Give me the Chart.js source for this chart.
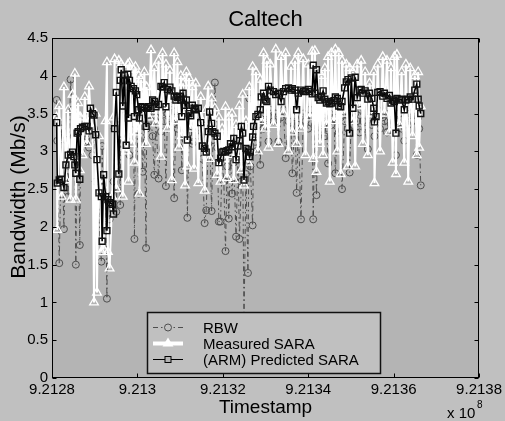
<!DOCTYPE html>
<html><head><meta charset="utf-8">
<script src="https://cdn.jsdelivr.net/npm/chart.js@4"></script>
<style>html,body{margin:0;padding:0;background:#c0c0c0;overflow:hidden;}</style>
</head><body>
<canvas id="c" width="505" height="421"></canvas>
<script>
const chartTitle = 'Caltech';
const xAxisTitle = 'Timestamp';
const yAxisTitle = 'Bandwidth (Mb/s)';
const xExponent = '8';
const xTickValues = [921280000, 921300000, 921320000, 921340000, 921360000, 921380000];
const xTickLabels = ['9.2128', '9.213', '9.2132', '9.2134', '9.2136', '9.2138'];
const yTickValues = [0, 0.5, 1, 1.5, 2, 2.5, 3, 3.5, 4, 4.5];
const yTickLabels = ['0', '0.5', '1', '1.5', '2', '2.5', '3', '3.5', '4', '4.5'];
const seriesNames = ['RBW', 'Measured SARA', '(ARM) Predicted SARA'];

const timestamps = [
921281093,921281233,921281698,921282256,921282791,921283256,921283791,921284349,921284814,921285116,
921285349,921285581,921285884,921286116,921286512,921286674,921287140,921287674,921288209,921288674,
921289000,921289465,921289837,921290233,921290535,921291000,921291558,921291744,921292093,921292558,
921292860,921293093,921293488,921294116,921294419,921294651,921295047,921295651,921295977,921296209,
921296581,921296977,921297372,921297744,921297907,921298140,921298535,921299070,921299302,921299535,
921299837,921300302,921300465,921300861,921301233,921301628,921302023,921302163,921302628,921303186,
921303558,921303954,921304349,921304954,921305512,921305884,921306279,921306674,921307047,921307605,
921308070,921308605,921309000,921309372,921309767,921310163,921310395,921310698,921311163,921311465,
921311698,921312093,921312488,921312860,921313256,921313651,921314256,921314814,921315186,921315744,
921316116,921316581,921316907,921317372,921317674,921318140,921318674,921319070,921319465,921319837,
921320233,921320628,921321000,921321395,921321791,921322163,921322558,921323093,921323558,921323884,
921324349,921324651,921324953,921325419,921325884,921326209,921326442,921326977,921327209,921327744,
921328209,921328767,921329000,921329535,921329930,921330302,921330698,921331093,921331860,921332395,
921333023,921333651,921334186,921334721,921335349,921335977,921336279,921336907,921337279,921337674,
921338302,921338837,921339372,921340000,921340395,921340930,921341163,921341558,921341930,921342326,
921342721,921343093,921343488,921343884,921344256,921344651,921345047,921345419,921346047,921346349,
921346814,921347140,921347605,921347907,921348535,921348907,921349302,921349698,921350070,921350465,
921351000,921351465,921352023,921352395,921352791,921353326,921353954,921354349,921354884,921355349,
921355512,921355884,921356279,921356814,921357442,921357837,921358442,921359000,921359372,921359767,
921360163,921360535,921360767,921361326,921361860,921362488,921362860,921363419,921363884,921364419,
921364953,921365419,921365744,921365977,921366349];

const rbw = [
3.68,3.14,1.52,3.30,1.97,3.15,2.40,3.95,3.55,3.20,
2.90,1.50,3.10,3.40,1.76,3.00,3.30,3.15,3.45,3.05,
3.50,2.95,3.30,2.60,2.20,2.10,1.54,3.07,2.00,2.41,
1.05,2.41,2.10,2.30,2.60,3.30,2.20,3.75,2.29,3.55,
3.10,3.85,3.60,3.20,3.50,2.95,3.40,3.60,1.84,3.35,
3.50,2.44,3.40,3.55,2.73,3.45,1.72,3.30,3.50,3.40,
3.20,2.69,3.45,2.64,3.26,3.55,3.40,2.54,3.50,3.35,
3.60,2.38,3.45,3.30,3.55,3.40,2.75,3.50,3.30,3.45,
2.12,3.25,3.40,3.10,3.13,3.40,3.30,3.20,2.90,2.05,
2.22,3.10,3.30,2.21,3.15,3.91,3.05,2.07,2.07,2.90,
2.60,1.68,2.80,2.11,2.95,2.44,2.85,1.87,2.90,1.84,
2.60,2.95,0.70,2.70,1.39,3.70,2.80,2.02,3.20,3.00,
3.35,2.82,3.40,3.30,3.50,3.35,3.13,3.55,3.40,3.50,
3.13,3.45,3.55,2.91,3.40,3.30,2.71,3.45,2.45,3.35,
2.10,3.50,3.40,3.30,3.55,3.45,2.10,3.35,2.42,3.40,
3.55,3.30,3.45,3.20,3.40,2.84,3.50,3.35,3.45,2.71,
3.40,3.25,3.45,2.50,3.40,3.55,3.30,2.72,3.45,3.35,
3.50,3.40,3.25,3.55,3.40,3.30,3.03,3.45,3.35,3.50,
3.20,3.40,3.55,3.30,3.45,3.40,3.25,3.50,3.35,3.45,
3.30,2.95,3.40,3.50,3.30,3.14,3.45,3.35,3.50,3.40,
3.55,2.95,3.45,3.30,2.55];

const sara = [
3.45,1.96,3.60,2.40,3.85,2.62,3.55,2.36,3.75,2.90,
4.03,2.36,3.50,3.64,2.75,3.45,2.95,3.72,3.10,3.86,
3.55,3.30,1.00,3.50,1.13,3.20,1.67,2.55,1.70,3.40,
4.18,1.67,1.45,2.40,3.45,4.22,2.50,4.20,3.20,4.15,
2.40,3.90,3.00,4.15,2.60,4.17,3.10,4.08,2.85,4.12,
3.25,4.00,2.44,3.95,3.40,4.05,3.10,3.85,3.45,4.34,
3.50,4.10,3.37,4.20,2.93,4.30,3.60,4.15,3.30,4.07,
2.62,4.30,3.40,4.18,3.05,4.00,3.20,3.90,2.55,4.05,
2.80,3.97,3.30,3.85,2.77,3.90,2.58,3.72,3.40,2.48,
3.55,3.86,2.90,3.70,3.30,3.57,2.69,3.45,2.60,3.30,
2.90,3.59,2.65,3.45,2.95,3.50,2.62,3.35,2.90,3.60,
2.75,3.75,2.55,3.40,2.85,3.85,3.00,4.12,3.20,4.05,
3.00,3.95,3.40,4.30,3.30,4.20,3.05,4.15,3.35,4.35,
3.10,4.25,3.50,4.30,3.00,4.12,3.25,4.20,3.10,4.30,
3.30,4.22,2.95,4.15,3.45,4.32,2.90,4.33,2.73,4.05,
3.10,4.00,2.95,4.10,3.35,4.25,2.60,4.30,3.40,4.35,
3.00,4.30,2.70,4.20,3.50,4.15,2.80,4.10,3.40,4.05,
2.80,4.15,3.60,4.20,3.10,4.05,2.95,3.90,3.50,4.05,
2.58,3.40,4.15,3.00,4.25,3.50,4.20,3.25,4.10,2.85,
4.25,2.70,4.28,3.35,4.05,2.85,4.15,2.60,4.10,3.20,
4.00,2.95,4.05,3.05,3.60];

const arm = [
3.38,2.58,2.62,2.63,2.52,2.82,2.95,2.96,2.99,2.93,
2.82,2.71,3.24,3.26,2.63,3.30,3.32,3.33,3.33,3.27,
3.57,3.50,3.48,3.22,2.89,2.45,2.40,1.81,2.69,2.40,
1.95,2.36,2.32,2.30,2.17,3.30,3.78,2.70,3.94,4.08,
3.60,4.01,3.08,4.02,3.44,3.94,3.86,3.83,3.46,3.80,
3.75,3.55,3.44,3.59,3.58,3.58,3.33,3.57,3.59,3.57,
3.68,3.66,3.59,3.62,3.86,3.85,3.91,3.59,3.82,3.85,
3.80,3.73,3.68,3.71,3.73,3.68,3.46,3.77,3.61,3.68,
3.15,3.50,3.47,3.61,3.57,3.55,3.57,3.38,3.07,3.04,
2.99,3.26,3.52,3.37,3.26,3.24,3.20,2.85,2.91,2.99,
3.00,2.99,3.01,3.02,3.10,3.06,3.17,2.89,3.07,3.14,
3.33,3.24,2.62,3.04,3.02,2.93,2.99,3.19,3.33,3.46,
3.49,3.55,3.72,3.77,3.68,3.66,3.86,3.81,3.79,3.75,
3.77,3.66,3.79,3.83,3.84,3.81,3.83,3.81,3.55,3.77,
3.81,3.79,3.80,3.82,3.79,3.76,4.14,3.77,4.08,3.71,
3.68,3.73,3.80,3.69,3.64,3.66,3.63,3.64,3.67,3.72,
3.70,3.60,3.59,3.66,3.84,3.92,3.95,3.24,3.97,3.57,
3.98,3.71,3.81,3.82,3.77,3.80,3.69,3.77,3.70,3.57,
3.39,3.46,3.78,3.79,3.73,3.77,3.70,3.74,3.64,3.68,
3.66,3.24,3.70,3.68,3.69,3.55,3.68,3.69,3.72,3.69,
3.81,3.89,3.69,3.60,3.50];

const FONT = "'Liberation Sans', Arial, Helvetica, sans-serif";
const FIG_BG = '#c0c0c0';
const AX_BG = '#b4b4b4';
const RBW_COLOR = '#4e4e4e';

function pts(vals) { return timestamps.map((t, i) => ({x: t, y: vals[i]})); }

const decor = {
  id: 'decor',
  beforeDraw(chart) {
    const {ctx, chartArea: a} = chart;
    ctx.save();
    ctx.fillStyle = FIG_BG;
    ctx.fillRect(0, 0, chart.width, chart.height);
    ctx.fillStyle = AX_BG;
    ctx.fillRect(a.left, a.top, a.right - a.left, a.bottom - a.top);
    ctx.restore();
  },
  afterDraw(chart) {
    const {ctx, chartArea: a} = chart;
    const xs = chart.scales.x, ys = chart.scales.y;
    ctx.save();
    ctx.strokeStyle = '#000';
    ctx.lineWidth = 1;
    const L = Math.round(a.left) + 0.5, R = Math.round(a.right) - 0.5;
    const T = Math.round(a.top) + 0.5, B = Math.round(a.bottom) - 0.5;
    ctx.strokeRect(L, T, R - L, B - T);
    ctx.beginPath();
    xTickValues.forEach(v => {
      const p = Math.round(xs.getPixelForValue(v)) + 0.5;
      ctx.moveTo(p, B); ctx.lineTo(p, B - 4);
      ctx.moveTo(p, T); ctx.lineTo(p, T + 4);
    });
    yTickValues.forEach(v => {
      const p = Math.round(ys.getPixelForValue(v)) + 0.5;
      ctx.moveTo(L, p); ctx.lineTo(L + 4, p);
      ctx.moveTo(R, p); ctx.lineTo(R - 4, p);
    });
    ctx.stroke();

    // title and axis titles
    ctx.fillStyle = '#000';
    ctx.textAlign = 'center';
    ctx.textBaseline = 'alphabetic';
    ctx.font = '22px ' + FONT;
    ctx.fillText(chartTitle, (a.left + a.right) / 2, 26);
    ctx.font = '19px ' + FONT;
    ctx.fillText(xAxisTitle, (a.left + a.right) / 2, 413);
    ctx.save();
    ctx.translate(25, 197);
    ctx.rotate(-Math.PI / 2);
    ctx.font = '21px ' + FONT;
    ctx.fillText(yAxisTitle, 0, 0);
    ctx.restore();
    // exponent
    ctx.textAlign = 'left';
    ctx.font = '15px ' + FONT;
    ctx.fillText('x 10', 447, 418);
    ctx.font = '10px ' + FONT;
    ctx.fillText(xExponent, 477, 408);

    // legend
    const lx = 147, ly = 312, lw = 233, lh = 61;
    ctx.fillStyle = FIG_BG;
    ctx.fillRect(lx, ly, lw, lh);
    ctx.lineWidth = 1.5;
    ctx.strokeStyle = '#111';
    ctx.strokeRect(lx + 0.5, ly + 0.5, lw, lh);
    const rows = [327.5, 343.5, 359.5];
    const x0 = 153, x1 = 183, xm = 168;
    // RBW
    ctx.strokeStyle = RBW_COLOR; ctx.lineWidth = 1;
    ctx.setLineDash([5, 3, 1.5, 3]);
    ctx.beginPath(); ctx.moveTo(x0, rows[0]); ctx.lineTo(x1, rows[0]); ctx.stroke();
    ctx.setLineDash([]);
    ctx.fillStyle = FIG_BG;
    ctx.beginPath(); ctx.arc(xm, rows[0], 3.5, 0, Math.PI * 2); ctx.fill(); ctx.stroke();
    // SARA
    ctx.strokeStyle = '#fff'; ctx.lineWidth = 4;
    ctx.beginPath(); ctx.moveTo(x0, rows[1]); ctx.lineTo(x1, rows[1]); ctx.stroke();
    ctx.fillStyle = '#fff';
    ctx.beginPath(); ctx.moveTo(xm, rows[1] - 6); ctx.lineTo(xm + 5.5, rows[1] + 3); ctx.lineTo(xm - 5.5, rows[1] + 3); ctx.closePath(); ctx.fill();
    // ARM
    ctx.strokeStyle = '#000'; ctx.lineWidth = 1;
    ctx.beginPath(); ctx.moveTo(x0, rows[2]); ctx.lineTo(x1, rows[2]); ctx.stroke();
    ctx.fillStyle = AX_BG;
    ctx.fillRect(xm - 3, rows[2] - 3, 6, 6);
    ctx.strokeRect(xm - 3, rows[2] - 3, 6, 6);
    ctx.fillStyle = '#000';
    ctx.font = '15px ' + FONT;
    ctx.textBaseline = 'middle';
    rows.forEach((y, i) => ctx.fillText(seriesNames[i], 203, y + 1));
    ctx.restore();
  }
};

Chart.defaults.font.family = FONT;
new Chart(document.getElementById('c'), {
  type: 'line',
  data: {
    datasets: [
      {label: seriesNames[2], data: pts(arm), order: 0, borderColor: '#000', borderWidth: 1.6,
       pointStyle: 'rect', pointRadius: 4.2, pointBorderColor: '#111', pointBackgroundColor: 'rgba(0,0,0,0)', pointBorderWidth: 1.4},
      {label: seriesNames[1], data: pts(sara), order: 1, borderColor: '#fff', borderWidth: 2,
       pointStyle: 'triangle', pointRadius: 5, pointBorderColor: '#fff', pointBackgroundColor: 'rgba(0,0,0,0)', pointBorderWidth: 1.3},
      {label: seriesNames[0], data: pts(rbw), order: 2, borderColor: RBW_COLOR, borderWidth: 1, borderDash: [5, 3, 1.5, 3],
       pointStyle: 'circle', pointRadius: 3.5, pointBorderColor: RBW_COLOR, pointBackgroundColor: 'rgba(0,0,0,0)', pointBorderWidth: 1}
    ]
  },
  options: {
    responsive: false, animation: false, devicePixelRatio: 1,
    layout: {padding: {left: 0, right: 23, top: 38, bottom: 0}},
    elements: {line: {tension: 0}},
    plugins: {
      legend: {display: false}, tooltip: {enabled: false}, title: {display: false}
    },
    scales: {
      x: {type: 'linear', min: xTickValues[0], max: xTickValues[xTickValues.length - 1],
          afterBuildTicks: s => { s.ticks = xTickValues.map(v => ({value: v})); },
          ticks: {callback: v => xTickLabels[xTickValues.indexOf(v)], color: '#000', font: {size: 15}, padding: 3, maxRotation: 0, autoSkip: false},
          grid: {display: false, drawTicks: false}, border: {display: false},
          afterFit: s => { s.height = 43; }},
      y: {min: yTickValues[0], max: yTickValues[yTickValues.length - 1],
          afterBuildTicks: s => { s.ticks = yTickValues.map(v => ({value: v})); },
          ticks: {callback: v => yTickLabels[yTickValues.indexOf(v)], color: '#000', font: {size: 15}, padding: 4, autoSkip: false},
          grid: {display: false, drawTicks: false}, border: {display: false},
          afterFit: s => { s.width = 52; }}
    }
  },
  plugins: [decor]
});
</script>
</body></html>
